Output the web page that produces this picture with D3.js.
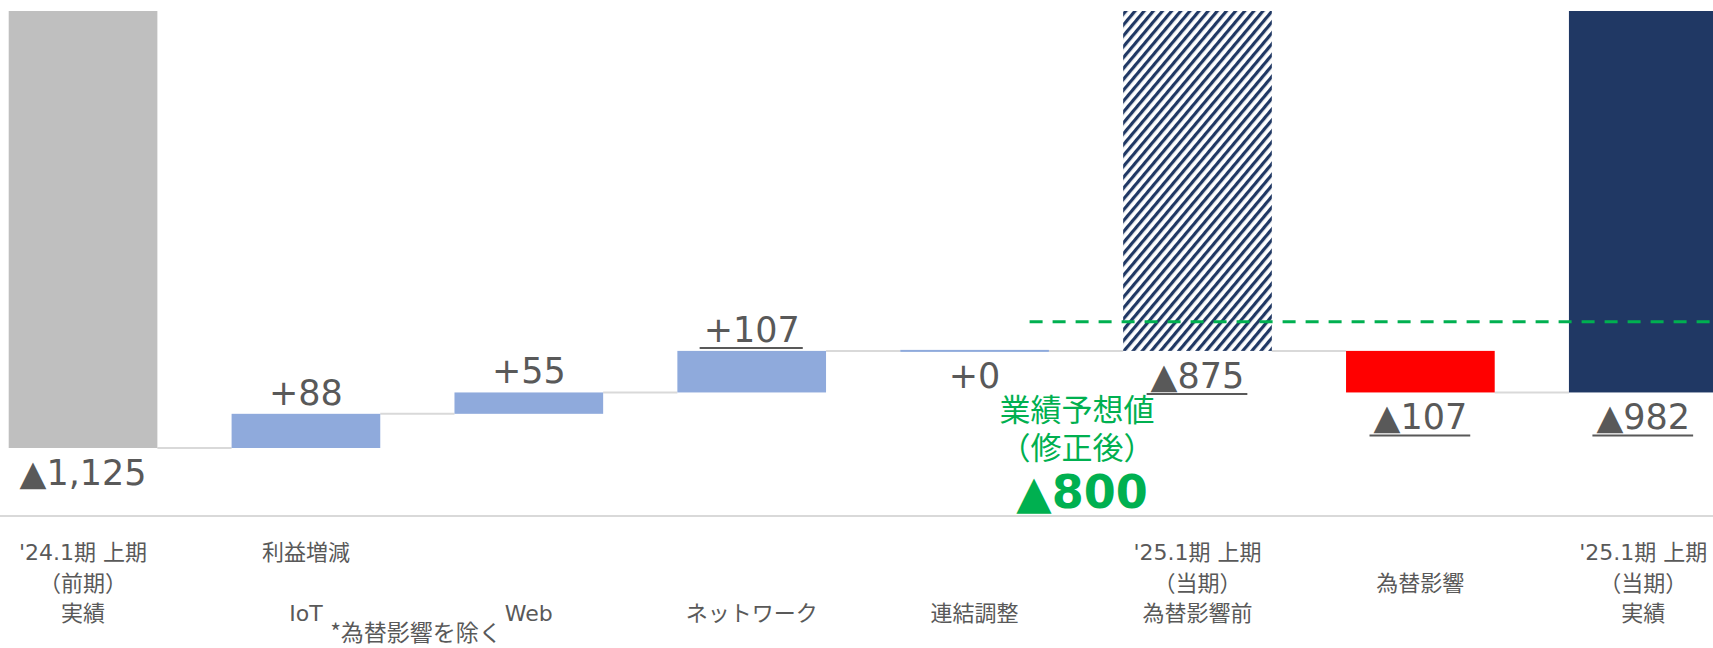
<!DOCTYPE html>
<html>
<head>
<meta charset="utf-8">
<script src="https://cdn.jsdelivr.net/npm/d3@7"></script>
<style>
  html, body { margin: 0; padding: 0; background: #fff; }
  svg { display: block; }
</style>
</head>
<body>
<div id="chart"></div>
<script>
// data (operating result, ▲ = minus)
const categories = [
    ["'24.1期 上期", "（前期）", "実績"],
    ["", "", "IoT"],
    ["", "", "Web"],
    ["", "", "ネットワーク"],
    ["", "", "連結調整"],
    ["'25.1期 上期", "（当期）", "為替影響前"],
    ["", "為替影響", ""],
    ["'25.1期 上期", "（当期）", "実績"]
];
const values = [-1125, 88, 55, 107, 0, -875, -107, -982];
const barTypes = ['prev', 'delta', 'delta', 'delta', 'delta', 'subtotal', 'fx', 'total'];
const underlined = [false, false, false, true, false, true, true, true];
const groupLabel = { text: '利益増減', index: 1 };
const footNote = '*為替影響を除く';
const forecastValue = -800;
const forecastLines = ['業績予想値', '（修正後）'];

const width = 1713;
const height = 648;
const textGray = '#595959';
const green = '#00b050';
const colors = { prev: '#bfbfbf', delta: '#8faadc', subtotal: 'url(#hatch)', fx: '#ff0000', total: '#203864' };

const fmt = d3.format(',');
const labelText = v => v < 0 ? '▲' + fmt(-v) : '+' + fmt(v);

// build waterfall steps
let running = 0;
const steps = values.map((v, i) => {
    let start, end;
    if (barTypes[i] === 'delta' || barTypes[i] === 'fx') {
        start = running;
        end = running + v;
    } else {
        start = 0;
        end = v;
    }
    running = end;
    return { i, value: v, start, end, type: barTypes[i] };
});

const svg = d3.select('#chart')
    .append('svg')
    .attr('width', width)
    .attr('height', height);

// hatch pattern for the pre-fx bar
const defs = svg.append('defs');
const pat = defs.append('pattern')
    .attr('id', 'hatch')
    .attr('patternUnits', 'userSpaceOnUse')
    .attr('width', 7)
    .attr('height', 7)
    .attr('patternTransform', 'rotate(40)');
pat.append('rect').attr('width', 7).attr('height', 7).attr('fill', '#fff');
pat.append('rect').attr('width', 3.2).attr('height', 7).attr('fill', '#203864');

const x = d3.scaleBand()
    .domain(d3.range(values.length))
    .range([8.7, 1717.6])
    .paddingInner(0.333)
    .paddingOuter(0);
const bw = x.bandwidth();

const y = d3.scaleLinear()
    .domain([0, d3.min(steps, d => d.end)])
    .range([11, 448]);

// category axis line
const axisY = 516;
svg.append('line')
    .attr('x1', 0).attr('x2', width)
    .attr('y1', axisY).attr('y2', axisY)
    .attr('stroke', '#d9d9d9')
    .attr('stroke-width', 2);

// connectors
svg.append('g')
    .selectAll('line')
    .data(steps.slice(0, -1))
    .join('line')
    .attr('x1', d => x(d.i) + bw)
    .attr('x2', d => x(d.i + 1))
    .attr('y1', d => y(d.end))
    .attr('y2', d => y(d.end))
    .attr('stroke', '#d9d9d9')
    .attr('stroke-width', 2);

// bars
svg.append('g')
    .selectAll('rect')
    .data(steps)
    .join('rect')
    .attr('x', d => x(d.i))
    .attr('width', bw)
    .attr('y', d => Math.min(y(d.start), y(d.end)) - (d.start === d.end ? 1 : 0))
    .attr('height', d => Math.max(Math.abs(y(d.end) - y(d.start)), 2))
    .attr('fill', d => colors[d.type]);

// forecast line
svg.append('line')
    .attr('x1', x(4) + bw * 0.87).attr('x2', width)
    .attr('y1', y(forecastValue)).attr('y2', y(forecastValue))
    .attr('stroke', green)
    .attr('stroke-width', 3)
    .attr('stroke-dasharray', '13,10');

// value labels
const valueFont = "'DejaVu Sans', 'Noto Sans CJK JP', sans-serif";
const labels = svg.append('g')
    .selectAll('g')
    .data(steps)
    .join('g');

labels.append('text')
    .attr('x', d => x(d.i) + bw / 2)
    .attr('y', d => d.value > 0 ? Math.min(y(d.start), y(d.end)) - 9 : Math.max(y(d.start), y(d.end)) + 37)
    .attr('text-anchor', 'middle')
    .attr('font-family', valueFont)
    .attr('font-size', 35)
    .attr('fill', textGray)
    .text(d => labelText(d.value))
    .each(function(d) {
        if (!underlined[d.i]) return;
        const bb = this.getBBox();
        const ty = +d3.select(this).attr('y');
        d3.select(this.parentNode).append('line')
            .attr('x1', bb.x - 4).attr('x2', bb.x + bb.width + 3)
            .attr('y1', ty + 6).attr('y2', ty + 6)
            .attr('stroke', textGray)
            .attr('stroke-width', 2);
    });

// category labels
const catFont = "'DejaVu Sans', 'Noto Sans CJK JP', sans-serif";
const cjkFont = "'Noto Sans CJK JP', sans-serif";
const lineY = [560, 591, 621];
const cats = svg.append('g')
    .selectAll('text')
    .data(categories)
    .join('text')
    .attr('text-anchor', 'middle')
    .attr('font-family', catFont)
    .attr('font-size', 22)
    .attr('fill', textGray);
cats.selectAll('tspan')
    .data((d, i) => d.map((t, k) => ({ t, k, i })))
    .join('tspan')
    .attr('x', d => x(d.i) + bw / 2)
    .attr('y', d => lineY[d.k])
    .text(d => d.t);

svg.append('text')
    .attr('x', x(groupLabel.index) + bw / 2)
    .attr('y', lineY[0])
    .attr('text-anchor', 'middle')
    .attr('font-family', cjkFont)
    .attr('font-size', 22)
    .attr('fill', textGray)
    .text(groupLabel.text);

svg.append('text')
    .attr('x', 416)
    .attr('y', 641)
    .attr('text-anchor', 'middle')
    .attr('font-family', cjkFont)
    .attr('font-size', 23)
    .attr('fill', textGray)
    .text(footNote);

// forecast annotation
const annX = (x(4) + x(5) + bw) / 2 - 9;
svg.append('g')
    .selectAll('text')
    .data(forecastLines)
    .join('text')
    .attr('x', annX)
    .attr('y', (d, i) => 421 + i * 38)
    .attr('text-anchor', 'middle')
    .attr('font-family', cjkFont)
    .attr('font-size', 31)
    .attr('fill', green)
    .text(d => d);

svg.append('text')
    .attr('x', annX + 5)
    .attr('y', 508)
    .attr('text-anchor', 'middle')
    .attr('font-family', valueFont)
    .attr('font-weight', 'bold')
    .attr('font-size', 46)
    .attr('fill', green)
    .text(labelText(forecastValue));
</script>
</body>
</html>
